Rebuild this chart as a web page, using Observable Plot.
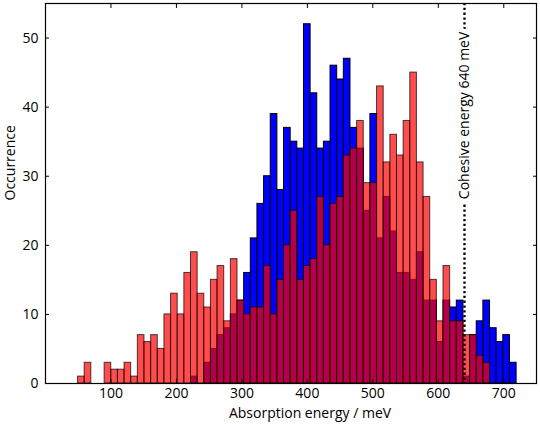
<!DOCTYPE html>
<html>
<head>
<meta charset="utf-8">
<script src="https://cdn.jsdelivr.net/npm/d3@7"></script>
<script src="https://cdn.jsdelivr.net/npm/@observablehq/plot@0.6"></script>
<style>
  html, body { margin: 0; padding: 0; background: #fff; }
  #chart svg { display: block; }
</style>
</head>
<body>
<div id="chart"></div>
<script>
// Histogram bins: 66 equal bins starting at ~49.7 meV, width ~10.15 meV
const binStart = 49.7;
const binWidth = 10.15;
const blueCounts = [
  0,0,0,0,0,0,0,0,0,0,
  0,0,0,0,0,0,0,1,0,3,
  5,7,8,10,12,16,21,26,30,39,
  28,37,35,34,52,42,34,35,46,44,
  47,37,34,25,39,21,27,22,16,16,
  15,19,12,12,6,12,11,12,1,7,
  9,12,8,6,7,3
];
const redCounts = [
  1,3,0,0,3,2,2,3,1,7,
  6,7,5,10,13,10,16,19,13,11,
  15,17,9,18,12,10,11,11,17,10,
  15,20,25,15,17,18,27,20,26,27,
  33,34,38,29,29,43,32,36,33,38,
  45,32,27,15,9,17,9,9,7,7,
  4,3,0,0,0,0
];
const xTicks = [100, 200, 300, 400, 500, 600, 700];
const yTicks = [0, 10, 20, 30, 40, 50];
const cohesiveEnergy = 640;
const cohesiveLabel = "Cohesive energy 640 meV";
const xLabel = "Absorption energy / meV";
const yLabel = "Occurrence";

const table = blueCounts.map((b, i) => ({
  x1: binStart + i * binWidth,
  x2: binStart + (i + 1) * binWidth,
  blue: b,
  red: redCounts[i]
}));

const font = "'Open Sans', sans-serif";

const chart = Plot.plot({
  width: 540,
  height: 426,
  marginLeft: 45,
  marginRight: 4,
  marginTop: 3,
  marginBottom: 43,
  style: { fontFamily: font, fontSize: "14px", color: "black", background: "white" },
  x: { domain: [0, 750] },
  y: { domain: [0, 55] },
  marks: [
    Plot.rectY(table.filter(d => d.blue > 0), {
      x1: "x1", x2: "x2", y: "blue",
      fill: "#0000ff", stroke: "black", strokeWidth: 1
    }),
    Plot.rectY(table.filter(d => d.red > 0), {
      x1: "x1", x2: "x2", y: "red",
      fill: "#ff0000", fillOpacity: 0.7,
      stroke: "black", strokeOpacity: 0.7, strokeWidth: 1
    }),
    Plot.ruleX([cohesiveEnergy], {
      stroke: "black", strokeWidth: 2.3, strokeDasharray: "2.3,2.5"
    }),
    Plot.text([cohesiveLabel], {
      x: cohesiveEnergy, y: 38.8, text: d => d, rotate: -90,
      fill: "black", stroke: "white", strokeWidth: 9, paintOrder: "stroke",
      fontSize: 14
    }),
    Plot.frame({ stroke: "black", strokeWidth: 1.2 }),
    // inward ticks on all four sides
    Plot.axisX(xTicks, { anchor: "bottom", tickSize: -4, tickFormat: () => "", label: null }),
    Plot.axisX(xTicks, { anchor: "top", tickSize: -4, tickFormat: () => "", label: null }),
    Plot.axisY(yTicks, { anchor: "left", tickSize: -4, tickFormat: () => "", label: null }),
    Plot.axisY(yTicks, { anchor: "right", tickSize: -4, tickFormat: () => "", label: null }),
    // tick labels
    Plot.axisX(xTicks, { anchor: "bottom", tickSize: 0, tickPadding: 5, label: null, fontSize: 14 }),
    Plot.axisY(yTicks, { anchor: "left", tickSize: 0, tickPadding: 7, label: null, fontSize: 14 }),
    // axis titles
    Plot.text([xLabel], { frameAnchor: "bottom", text: d => d, dx: 19, dy: 34, fontSize: 14 }),
    Plot.text([yLabel], { frameAnchor: "left", text: d => d, rotate: -90, dx: -35, dy: 7, fontSize: 14 })
  ]
});

document.getElementById("chart").appendChild(chart);
</script>
</body>
</html>
